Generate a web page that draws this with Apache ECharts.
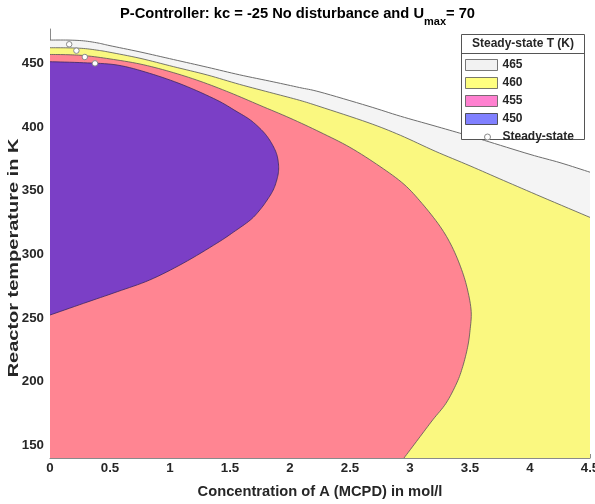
<!DOCTYPE html>
<html><head><meta charset="utf-8">
<script src="https://cdn.jsdelivr.net/npm/echarts@6/dist/echarts.min.js"></script>
<style>html,body{margin:0;padding:0;background:#fff}#c{width:595px;height:504px}</style>
</head><body><div id="c"></div>
<script>
// ---- axis setup ----
const xMin = 0, xMax = 4.5, yMin = 140, yMax = 477;
const xTicks = [0, 0.5, 1, 1.5, 2, 2.5, 3, 3.5, 4, 4.5];
const yTicks = [150, 200, 250, 300, 350, 400, 450];

// ---- legend levels (steady-state T in K) ----
const levels = ['465', '460', '455', '450'];

// ---- contour boundaries [concentration, temperature] ----
const curve465 = [[0,468.3],[0.15,468.3],[0.28,467.7],[0.4,466],[0.5,463.9],[0.75,459],[1.03,453],[1.31,447],
  [1.58,441],[1.86,435.5],[2.08,431],[2.25,427.5],[2.65,416.5],[2.92,408.5],[3.2,401],[3.44,394.5],
  [3.62,389.5],[4.0,378.5],[4.25,372],[4.5,364.5]];
const curve460 = [[0,462.3],[0.15,462.2],[0.28,461.7],[0.4,460.3],[0.5,458.7],[0.75,454],[1.03,447.4],[1.31,440.9],
  [1.58,433.5],[1.86,426.5],[2.08,421],[2.25,416],[2.65,403.5],[2.92,393.5],[3.21,381],[3.5,369.5],
  [3.78,358],[4.1,345],[4.5,329]];
const curve455 = [[0,457],[0.15,456.8],[0.3,456],[0.5,453.5],[0.75,449.5],[1.0,443.5],[1.25,436],[1.5,427],
  [1.75,417],[2.0,407],[2.25,396],[2.5,384],[2.75,369],[2.95,355],[3.1,340],[3.25,322],[3.35,306],
  [3.43,288],[3.48,272],[3.51,255],[3.5,240],[3.48,227],[3.44,212],[3.39,199],[3.3,183],[3.19,170],
  [3.07,155],[2.95,140]];
const curve450 = [[0,451.3],[0.28,450.5],[0.56,448.7],[0.83,442.2],[1.11,433],[1.39,421.2],[1.55,412.5],
  [1.67,405.5],[1.77,397],[1.83,389.8],[1.88,381],[1.90,374],[1.905,366],[1.89,358.4],[1.86,350.5],
  [1.81,342.7],[1.75,335],[1.67,327],[1.53,317.5],[1.39,308.7],[1.11,293],[0.83,279.8],[0.56,270.6],
  [0.28,261.5],[0,252.3]];

// ---- steady states ----
const steadyX = [0.16, 0.22, 0.29, 0.375];
const steadyT = [465, 460, 455, 450];

const FONT = '"Liberation Sans", Arial, Helvetica, sans-serif';
const INK = '#262626';
const AXIS = '#8a8a8a';

// Catmull-Rom smoothing of already-projected pixel points (rendering only)
function smoothPx(px, n) {
  const out = [];
  for (let i = 0; i < px.length - 1; i++) {
    const p0 = px[i - 1] || px[i], p1 = px[i], p2 = px[i + 1], p3 = px[i + 2] || px[i + 1];
    for (let k = 0; k < n; k++) {
      const t = k / n, t2 = t * t, t3 = t2 * t;
      out.push([
        0.5 * (2 * p1[0] + (-p0[0] + p2[0]) * t + (2 * p0[0] - 5 * p1[0] + 4 * p2[0] - p3[0]) * t2 + (-p0[0] + 3 * p1[0] - 3 * p2[0] + p3[0]) * t3),
        0.5 * (2 * p1[1] + (-p0[1] + p2[1]) * t + (2 * p0[1] - 5 * p1[1] + 4 * p2[1] - p3[1]) * t2 + (-p0[1] + 3 * p1[1] - 3 * p2[1] + p3[1]) * t3)
      ]);
    }
  }
  out.push(px[px.length - 1]);
  return out;
}

function regionSeries(name, curve, closing, fill, stroke, lw) {
  return {
    type: 'custom', name: name, coordinateSystem: 'cartesian2d', silent: true, animation: false,
    clip: true,
    data: [curve[0]],
    renderItem: function (params, api) {
      const line = smoothPx(curve.map(p => api.coord(p)), 8);
      const poly = line.concat(closing.map(p => api.coord(p)));
      return {
        type: 'group',
        children: [
          { type: 'polygon', shape: { points: poly }, style: { fill: fill } },
          { type: 'polyline', shape: { points: line }, style: { fill: null, stroke: stroke, lineWidth: lw } }
        ]
      };
    }
  };
}

const chart = echarts.init(document.getElementById('c'), null, { renderer: 'canvas' });
chart.setOption({
  backgroundColor: '#fff',
  animation: false,
  textStyle: { fontFamily: FONT },
  title: {
    left: 'center', top: 6, padding: 0,
    text: '{b|P-Controller: kc = -25 No disturbance and U}{s|max}{b|= 70}',
    textStyle: {
      rich: {
        b: { fontSize: 14.7, fontWeight: 'bold', color: '#000', fontFamily: FONT, lineHeight: 18, verticalAlign: 'top' },
        s: { fontSize: 11, fontWeight: 'bold', color: '#000', fontFamily: FONT, lineHeight: 13, padding: [10, 0, 0, 0], verticalAlign: 'top' }
      }
    }
  },
  grid: { left: 50, right: 5, top: 29, bottom: 46, containLabel: false, outerBoundsMode: 'none' },
  xAxis: {
    type: 'value', min: xMin, max: xMax,
    name: 'Concentration of A (MCPD) in mol/l', nameLocation: 'middle', nameGap: 26, nameMoveOverlap: false,
    nameTextStyle: { fontSize: 14.7, fontWeight: 'bold', color: INK, fontFamily: FONT },
    axisLine: { show: true, lineStyle: { color: AXIS, width: 1 } },
    axisTick: { show: true, inside: true, length: 4, customValues: xTicks, lineStyle: { color: AXIS } },
    axisLabel: { customValues: xTicks, fontSize: 13.3, fontWeight: 'bold', color: INK, margin: 4, fontFamily: FONT },
    splitLine: { show: false }
  },
  yAxis: {
    type: 'value', min: yMin, max: yMax,
    axisLine: { show: true, lineStyle: { color: AXIS, width: 1 } },
    axisTick: { show: true, inside: true, length: 4, customValues: yTicks, lineStyle: { color: AXIS } },
    axisLabel: { customValues: yTicks, fontSize: 13.3, fontWeight: 'bold', color: INK, margin: 6, fontFamily: FONT },
    splitLine: { show: false }
  },
  legend: {
    orient: 'vertical', left: 465, top: 59, padding: 0,
    itemWidth: 32, itemHeight: 11, itemGap: 6, selectedMode: false, z: 6,
    textStyle: { fontSize: 12, fontWeight: 'bold', color: INK, lineHeight: 11, fontFamily: FONT },
    data: [
      { name: levels[0], icon: 'rect', itemStyle: { color: '#F2F2F2', borderColor: '#555', borderWidth: 0.8 } },
      { name: levels[1], icon: 'rect', itemStyle: { color: '#FFFF80', borderColor: '#555', borderWidth: 0.8 } },
      { name: levels[2], icon: 'rect', itemStyle: { color: '#FF80D0', borderColor: '#555', borderWidth: 0.8 } },
      { name: levels[3], icon: 'rect', itemStyle: { color: '#8080FF', borderColor: '#333', borderWidth: 0.8 } },
      { name: 'Steady-state', icon: 'path://M0,0M32,11M25,5.5A3,3,0,1,1,19,5.5A3,3,0,1,1,25,5.5Z',
        itemStyle: { color: '#fff', borderColor: '#8a8a8a', borderWidth: 1 } }
    ]
  },
  graphic: [
    { type: 'text', z: 6, x: 14, y: 258, rotation: Math.PI / 2, scaleX: 1.36,
      style: { text: 'Reactor temperature in K', fontSize: 14.7, fontWeight: 'bold', fill: INK,
        fontFamily: FONT, align: 'center', verticalAlign: 'middle' } },
    { type: 'rect', z: 5, shape: { x: 461.5, y: 34.5, width: 123, height: 105 },
      style: { fill: '#fff', stroke: '#555', lineWidth: 1 } },
    { type: 'line', z: 5, shape: { x1: 461.5, y1: 53.5, x2: 584.5, y2: 53.5 },
      style: { stroke: '#555', lineWidth: 1 } },
    { type: 'text', z: 6, x: 523, y: 44,
      style: { text: 'Steady-state T (K)', fontSize: 12, fontWeight: 'bold', fill: INK,
        fontFamily: FONT, align: 'center', verticalAlign: 'middle' } }
  ],
  series: [
    regionSeries(levels[0], curve465, [[xMax, yMin], [xMin, yMin]], '#F4F4F4', '#6e6e6e', 1),
    regionSeries(levels[1], curve460, [[xMax, yMin], [xMin, yMin]], '#FAF880', '#555', 0.8),
    regionSeries(levels[2], curve455, [[xMin, yMin]], '#FF8592', '#555', 0.8),
    regionSeries(levels[3], curve450, [], '#7B3FC6', '#3a2a60', 0.8),
    {
      type: 'scatter', name: 'Steady-state', z: 3,
      data: steadyX.map((x, i) => [x, steadyT[i]]),
      symbol: 'circle', symbolSize: 5.5,
      itemStyle: { color: '#fff', borderColor: '#8a8a8a', borderWidth: 1, opacity: 1 },
      silent: true, animation: false
    }
  ]
});
</script>
</body></html>
